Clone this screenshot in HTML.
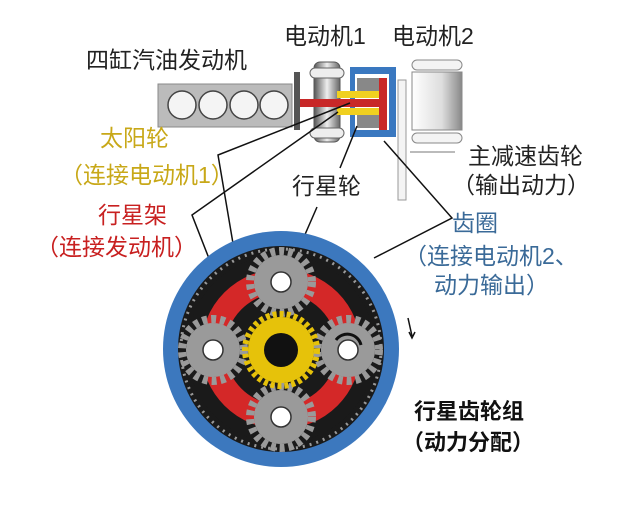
<!DOCTYPE html>
<html><head><meta charset="utf-8"><style>
html,body{margin:0;padding:0;background:#fff;width:640px;height:513px;overflow:hidden}
svg{display:block}
text{font-family:"Liberation Sans","Noto Sans CJK SC",sans-serif}
</style></head><body>
<svg width="640" height="513" viewBox="0 0 640 513" xmlns="http://www.w3.org/2000/svg">
<defs>
<linearGradient id="cyl" x1="0" x2="1"><stop offset="0" stop-color="#555"/><stop offset="0.5" stop-color="#eee"/><stop offset="1" stop-color="#666"/></linearGradient>
<linearGradient id="m2" x1="0" x2="1"><stop offset="0" stop-color="#fff"/><stop offset="0.6" stop-color="#ddd"/><stop offset="1" stop-color="#888"/></linearGradient>
</defs>
<!-- engine -->
<rect x="158" y="84" width="134" height="43" fill="#bbb" stroke="#888"/>
<g fill="#f4f4f4" stroke="#444" stroke-width="1.5">
<circle cx="182" cy="105" r="14"/><circle cx="213" cy="105" r="14"/><circle cx="244" cy="105" r="14"/><circle cx="274" cy="105" r="14"/>
</g>
<rect x="294" y="72" width="6" height="58" fill="#555"/>
<!-- motor1 -->
<rect x="314" y="62" width="26" height="80" rx="6" fill="url(#cyl)" stroke="#555"/>
<rect x="310" y="68" width="34" height="10" rx="5" fill="#eee" stroke="#666"/>
<rect x="310" y="128" width="34" height="10" rx="5" fill="#eee" stroke="#666"/>
<!-- blue box -->
<rect x="350" y="67" width="46" height="70" fill="#3a78c0"/>
<rect x="355" y="74" width="34" height="56" fill="#fff"/>
<rect x="357" y="78" width="22" height="16" fill="#888"/>
<rect x="357" y="112" width="22" height="16" fill="#888"/>
<rect x="337" y="91" width="42" height="7" fill="#f0d020"/>
<rect x="337" y="108" width="42" height="7" fill="#f0d020"/>
<rect x="300" y="99" width="82" height="8" fill="#c82828"/>
<rect x="379" y="78" width="8" height="52" fill="#c82828"/>
<!-- motor2 -->
<rect x="398" y="80" width="8" height="120" fill="#f4f4f4" stroke="#999"/>
<rect x="412" y="60" width="50" height="10" rx="5" fill="#f4f4f4" stroke="#888"/>
<rect x="412" y="133" width="50" height="10" rx="5" fill="#f4f4f4" stroke="#888"/>
<rect x="412" y="72" width="50" height="58" fill="url(#m2)" stroke="#888"/>
<line x1="410" y1="152" x2="455" y2="152" stroke="#777"/>
<!-- leader lines -->
<g stroke="#111" stroke-width="1.5" fill="none">
<polyline points="350,103 218,155 246,320"/>
<polyline points="338,112 192,215 226,302"/>
<line x1="357" y1="126" x2="340" y2="168"/>
<line x1="317" y1="207" x2="293" y2="262"/>
<polyline points="384,141 452,218 374,258"/>
</g>
<!-- planetary gear -->
<circle cx="281" cy="349" r="118" fill="#3c78be"/>
<circle cx="281" cy="349" r="103" fill="#1a1a1a"/>
<circle cx="281" cy="349" r="100" fill="none" stroke="#999" stroke-width="3" stroke-dasharray="2 5"/>
<circle cx="281" cy="349" r="94" fill="#1a1a1a"/>
<circle cx="281" cy="349" r="68" fill="none" stroke="#d42828" stroke-width="24"/>
<g fill="#9a9a9a">
<circle cx="281" cy="282" r="27"/><circle cx="281" cy="417" r="27"/><circle cx="213" cy="350" r="27"/><circle cx="348" cy="350" r="27"/>
</g>
<g fill="none" stroke="#9a9a9a" stroke-width="8" stroke-dasharray="5 4">
<circle cx="281" cy="282" r="31"/><circle cx="281" cy="417" r="31"/><circle cx="213" cy="350" r="31"/><circle cx="348" cy="350" r="31"/>
</g>
<g fill="#fff" stroke="#333" stroke-width="1.5">
<circle cx="281" cy="282" r="10"/><circle cx="281" cy="417" r="10"/><circle cx="213" cy="350" r="10"/><circle cx="348" cy="350" r="10"/>
</g>
<path d="M 336 340 A 14 14 0 0 1 361 345" stroke="#111" stroke-width="3" fill="none"/>
<circle cx="281" cy="350" r="33" fill="#e6c20a"/>
<circle cx="281" cy="350" r="36" fill="none" stroke="#e6c20a" stroke-width="6" stroke-dasharray="4 3"/>
<circle cx="281" cy="350" r="17" fill="#111"/>
<path d="M 408 318 L 412 336" stroke="#111" stroke-width="1.5"/>
<path d="M 409 332 L 412 338 L 415 332" stroke="#111" stroke-width="1.5" fill="none"/>
<!-- labels -->
<g font-size="23" fill="#222">
<text x="86" y="68">四缸汽油发动机</text>
<text x="284" y="44">电动机1</text>
<text x="392" y="44">电动机2</text>
<text x="292" y="194">行星轮</text>
<text x="468" y="164">主减速齿轮</text>
<text x="452" y="193">（输出动力）</text>
</g>
<g font-size="23" fill="#c8a818">
<text x="100" y="146">太阳轮</text>
<text x="60" y="183">（连接电动机1）</text>
</g>
<g font-size="23" fill="#c82020">
<text x="98" y="223">行星架</text>
<text x="36" y="255">（连接发动机）</text>
</g>
<g font-size="23" fill="#3a6a98">
<text x="452" y="231">齿圈</text>
<text x="404" y="264">（连接电动机2、</text>
<text x="434" y="293">动力输出）</text>
</g>
<g font-size="22" font-weight="bold" fill="#111">
<text x="414" y="419">行星齿轮组</text>
<text x="402" y="450">（动力分配）</text>
</g>
</svg>
</body></html>
